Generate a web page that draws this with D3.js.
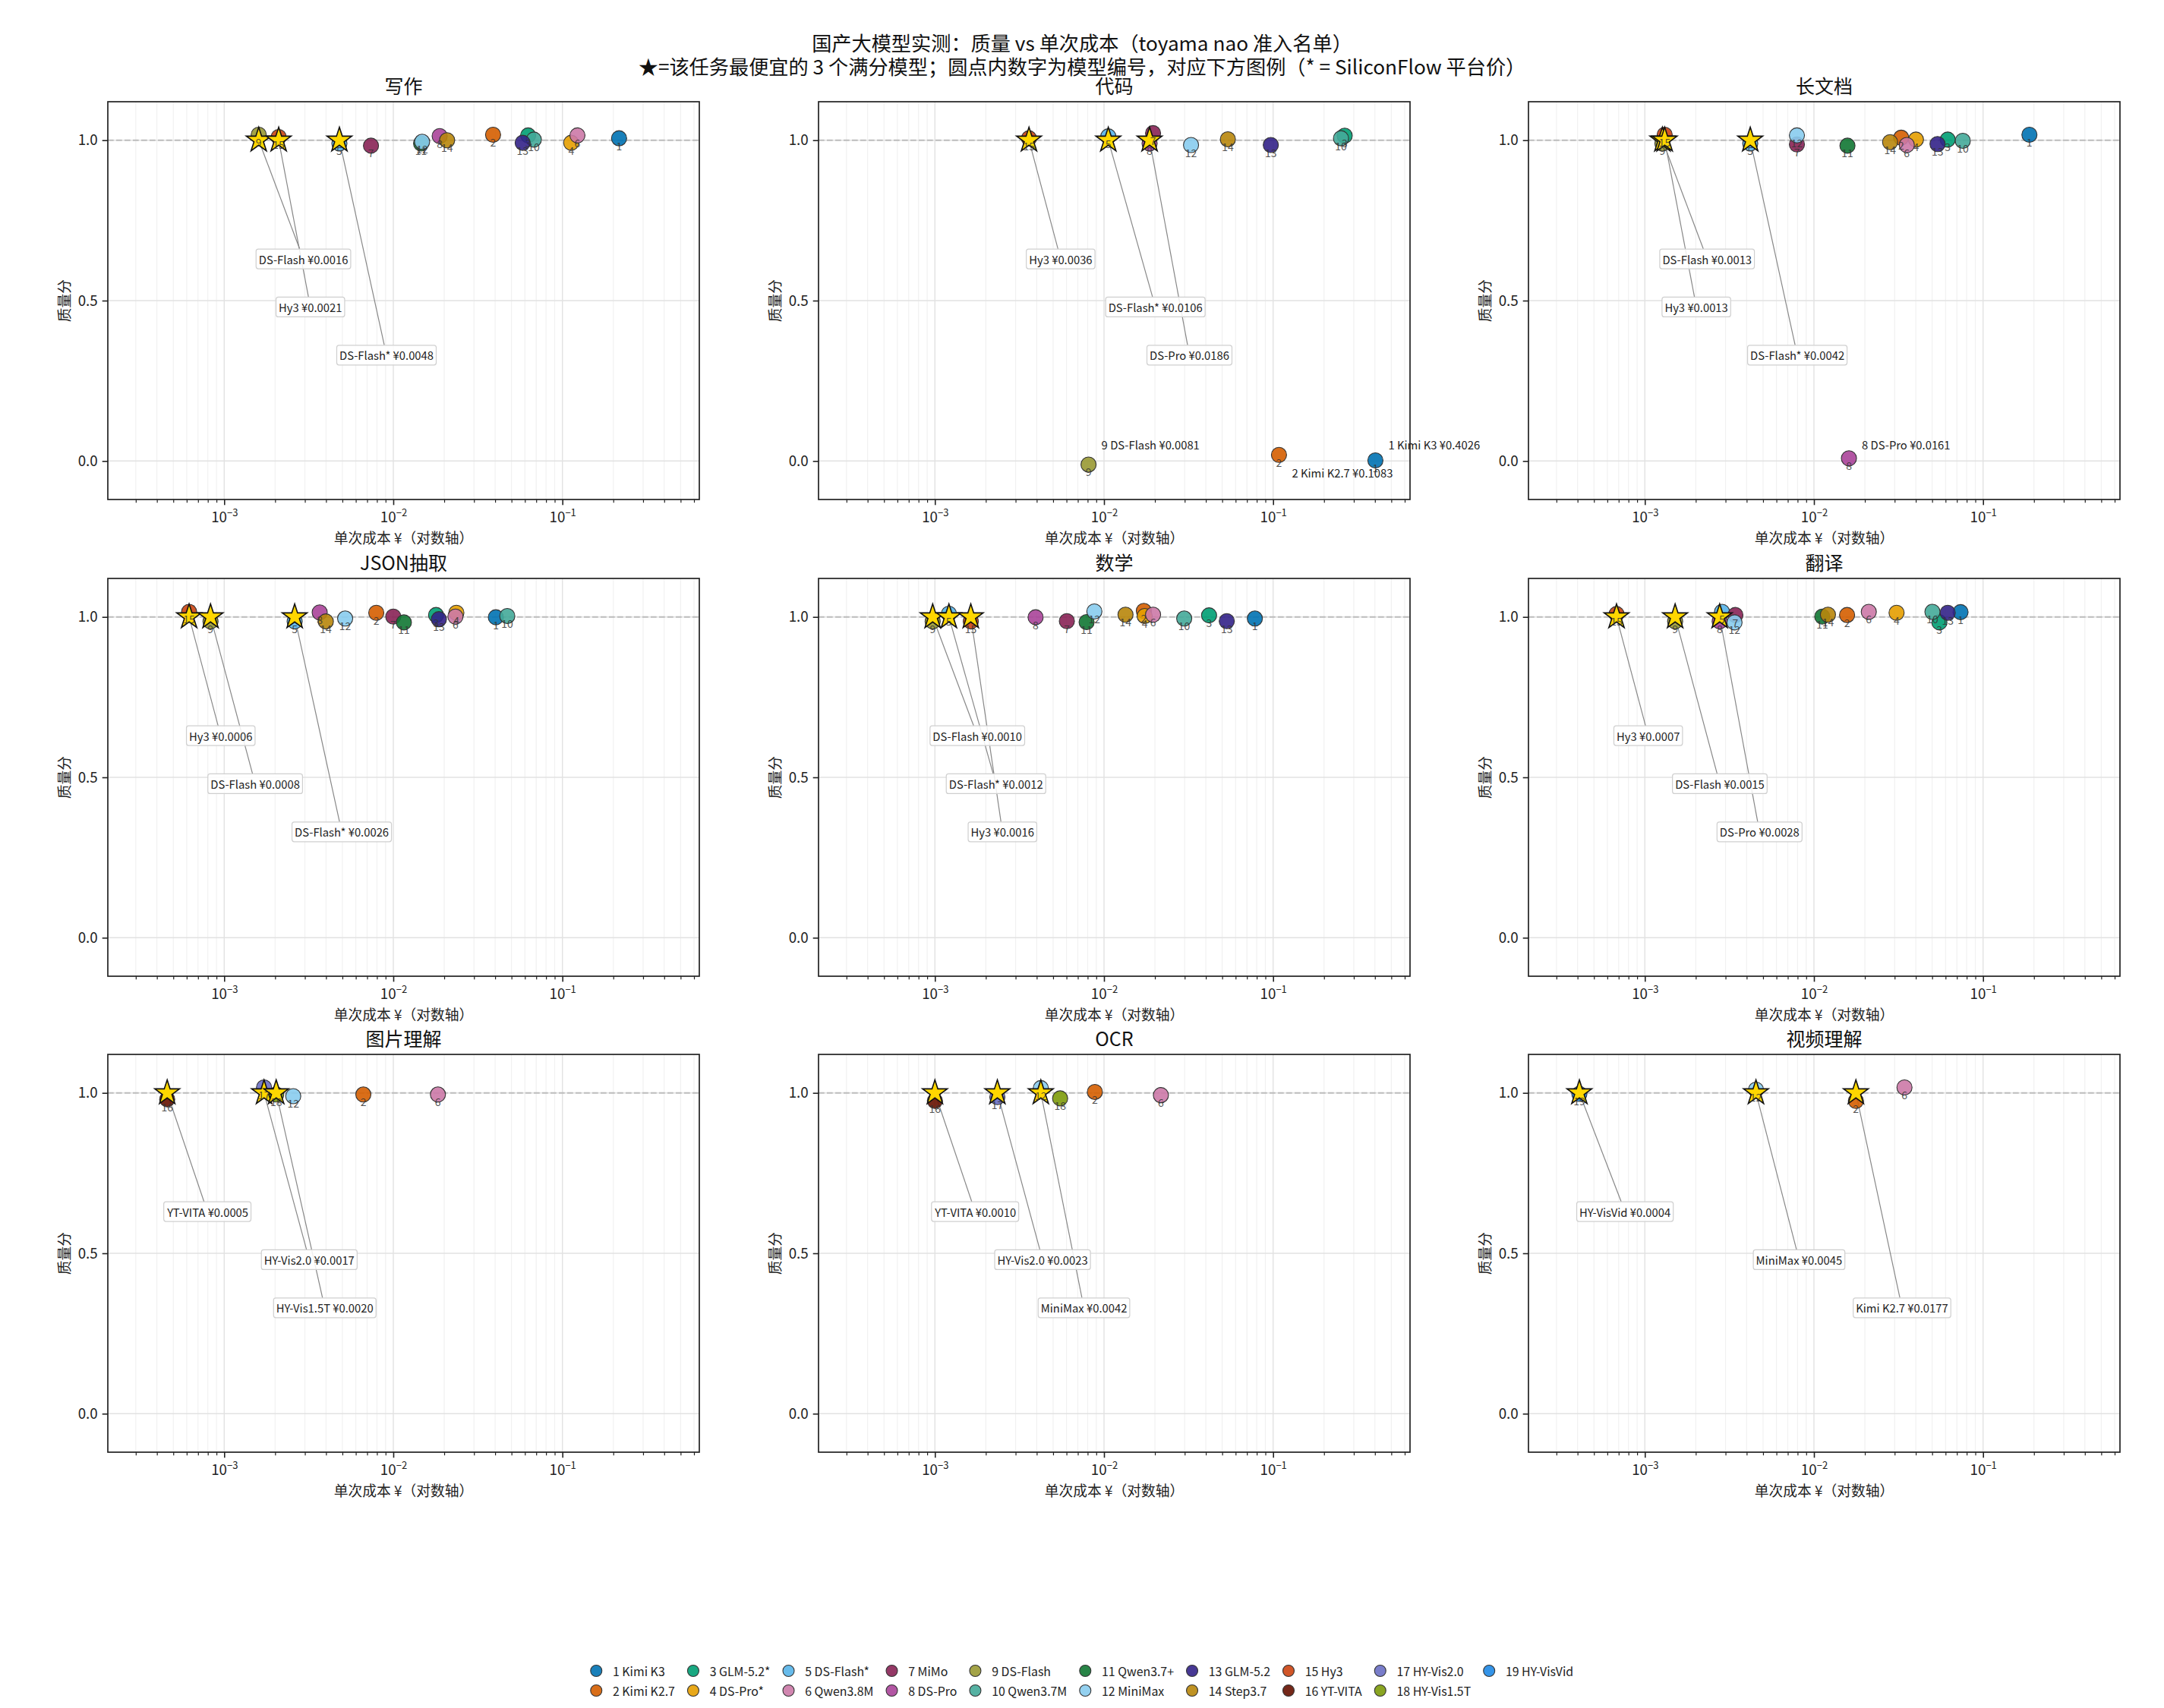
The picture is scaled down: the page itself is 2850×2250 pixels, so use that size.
<!DOCTYPE html>
<html><head><meta charset="utf-8">
<script src="https://cdn.jsdelivr.net/npm/d3@7"></script>
<style>
body{margin:0;background:#fff;}
svg text{font-family:"Noto Sans CJK SC","Noto Sans",sans-serif;}
</style>
</head><body>
<svg id="chart" width="2850" height="2250"></svg>
<script>
// ---------------- DATA ----------------
const modelNames = ["Kimi K3","Kimi K2.7","GLM-5.2*","DS-Pro*","DS-Flash*","Qwen3.8M","MiMo","DS-Pro","DS-Flash","Qwen3.7M","Qwen3.7+","MiniMax","GLM-5.2","Step3.7","Hy3","YT-VITA","HY-Vis2.0","HY-Vis1.5T","HY-VisVid"];
const modelColors = ["#0072B2","#D55E00","#009E73","#E69F00","#56B4E9","#CC79A7","#882255","#AA4499","#999933","#44AA99","#117733","#88CCEE","#332288","#B8860B","#CC4411","#661100","#6A6FC4","#7D9B0A","#1E88E5"];
const taskNames = ["写作","代码","长文档","JSON抽取","数学","翻译","图片理解","OCR","视频理解"];

// [model id, cost ¥ per call, plotted quality score]
const writingPoints = [[9,0.0016,1.017],[15,0.0021,1.01],[5,0.0048,0.99],[7,0.00738,0.983],[11,0.0146,0.99],[12,0.0148,0.995],[8,0.0188,1.013],[14,0.0208,1.0],[2,0.0389,1.017],[3,0.0627,1.015],[13,0.0582,0.992],[10,0.0678,1.002],[4,0.1127,0.992],[6,0.1227,1.015],[1,0.2163,1.006]];
const codePoints = [[15,0.0036,1.006],[5,0.0106,1.012],[8,0.0186,0.99],[7,0.0195,1.022],[12,0.0327,0.985],[14,0.054,1.003],[13,0.0969,0.985],[10,0.252,1.006],[3,0.265,1.014],[9,0.0081,-0.011],[2,0.1083,0.019],[1,0.4026,0.002]];
const longDocPoints = [[9,0.00127,0.99],[15,0.00131,1.017],[5,0.0042,0.99],[12,0.00793,1.015],[7,0.00793,0.987],[11,0.01578,0.983],[14,0.0282,0.994],[2,0.0328,1.008],[6,0.0354,0.985],[4,0.0401,1.002],[13,0.0538,0.988],[3,0.0618,1.002],[10,0.0759,0.998],[1,0.188,1.017],[8,0.0161,0.0085]];
const jsonPoints = [[15,0.00062,1.016],[9,0.00083,0.986],[5,0.00261,0.986],[8,0.00367,1.014],[14,0.00399,0.986],[12,0.00519,0.995],[2,0.00793,1.013],[7,0.01,1.001],[11,0.01155,0.983],[3,0.0179,1.006],[13,0.0186,0.993],[4,0.0236,1.013],[6,0.0233,1.001],[1,0.0404,0.999],[10,0.0472,1.003]];
const mathPoints = [[9,0.00097,0.986],[5,0.00121,1.01],[15,0.00163,0.986],[8,0.00394,0.999],[7,0.00603,0.987],[11,0.00789,0.984],[12,0.00877,1.017],[14,0.0134,1.007],[2,0.0172,1.019],[4,0.0174,1.003],[6,0.0195,1.007],[10,0.0298,0.995],[3,0.0418,1.005],[13,0.0532,0.987],[1,0.078,0.995]];
const translatePoints = [[15,0.00068,1.009],[9,0.00151,0.986],[8,0.00277,0.986],[5,0.00286,1.016],[7,0.00343,1.006],[12,0.00339,0.983],[11,0.0112,1.001],[14,0.0121,1.007],[2,0.0157,1.006],[6,0.0211,1.016],[4,0.0308,1.013],[10,0.0502,1.016],[3,0.0552,0.983],[13,0.0618,1.013],[1,0.0736,1.015]];
const imagePoints = [[16,0.00046,0.98],[17,0.00172,1.017],[18,0.00203,0.995],[12,0.00256,0.99],[2,0.00665,0.995],[6,0.01836,0.995]];
const ocrPoints = [[16,0.001,0.975],[17,0.00234,0.987],[12,0.00423,1.015],[18,0.0055,0.983],[2,0.00883,1.003],[6,0.0217,0.993]];
const videoPoints = [[19,0.00041,0.997],[12,0.00454,1.01],[2,0.0177,0.975],[6,0.0343,1.017]];

// cheapest three full-score models per task (in cost order)
const writingTop3 = [9,15,5];
const codeTop3 = [15,5,8];
const longDocTop3 = [9,15,5];
const jsonTop3 = [15,9,5];
const mathTop3 = [9,5,15];
const translateTop3 = [15,9,8];
const imageTop3 = [16,17,18];
const ocrTop3 = [16,17,12];
const videoTop3 = [19,12,2];

const xTickValues = [1e-3,1e-2,1e-1];
const yTickValues = [0,0.5,1.0];
const costDomain = [2.05e-4,0.645];
const scoreDomain = [-0.12,1.12];

const titleLine1 = "国产大模型实测：质量 vs 单次成本（toyama nao 准入名单）";
const titleLine2 = "★=该任务最便宜的 3 个满分模型；圆点内数字为模型编号，对应下方图例（* = SiliconFlow 平台价）";
const xLabel = "单次成本 ¥（对数轴）";
const yLabel = "质量分";

// ---------------- LAYOUT ----------------
const FONT = '"Noto Sans CJK SC","Noto Sans",sans-serif';
const colX = [142,1078,2013], rowY = [134,762,1389];
const W = 779, H = 524;
const boxRows = [0.63,0.48,0.33];

const pointSets = [writingPoints,codePoints,longDocPoints,jsonPoints,mathPoints,translatePoints,imagePoints,ocrPoints,videoPoints];
const top3Sets = [writingTop3,codeTop3,longDocTop3,jsonTop3,mathTop3,translateTop3,imageTop3,ocrTop3,videoTop3];
const panels = taskNames.map((name,i)=>({
  name,
  points: pointSets[i].map(p=>({id:p[0],cost:p[1],score:p[2]})),
  top3: top3Sets[i]
}));

const svg = d3.select("#chart");
svg.append("rect").attr("width",2850).attr("height",2250).attr("fill","#fff");

// suptitle
svg.append("text").attr("x",1425).attr("y",67).attr("text-anchor","middle")
  .attr("font-size",26.2).attr("fill","#111").text(titleLine1);
svg.append("text").attr("x",1425).attr("y",98).attr("text-anchor","middle")
  .attr("font-size",26.2).attr("fill","#111").text(titleLine2);

const x = d3.scaleLog().domain(costDomain).range([0,W]);
const y = d3.scaleLinear().domain(scoreDomain).range([H,0]);

const minorTicks = [];
for (let e=-4;e<=0;e++) for (let m=2;m<=9;m++){const v=m*Math.pow(10,e); if(v>=costDomain[0]&&v<=costDomain[1]) minorTicks.push(v);}

const starSym = d3.symbol().type(d3.symbolStar).size(330)();

panels.forEach((p,i)=>{
  const g = svg.append("g").attr("transform",`translate(${colX[i%3]},${rowY[Math.floor(i/3)]})`);
  // grids
  g.append("g").selectAll("line").data(minorTicks).join("line")
    .attr("x1",d=>x(d)).attr("x2",d=>x(d)).attr("y1",0).attr("y2",H)
    .attr("stroke","#f1f1f1").attr("stroke-width",1.2);
  g.append("g").selectAll("line").data(xTickValues).join("line")
    .attr("x1",d=>x(d)).attr("x2",d=>x(d)).attr("y1",0).attr("y2",H)
    .attr("stroke","#e2e2e2").attr("stroke-width",1.4);
  g.append("g").selectAll("line").data(yTickValues).join("line")
    .attr("x1",0).attr("x2",W).attr("y1",d=>y(d)).attr("y2",d=>y(d))
    .attr("stroke","#e2e2e2").attr("stroke-width",1.4);
  // reference line at full score
  g.append("line").attr("x1",0).attr("x2",W).attr("y1",y(1)).attr("y2",y(1))
    .attr("stroke","#bdbdbd").attr("stroke-width",2).attr("stroke-dasharray","7.7,3.3");

  const starPts = p.top3.map(id=>p.points.find(d=>d.id===id));
  const annG = g.append("g");
  const lineG = annG.append("g");
  const boxG = annG.append("g");

  // circles
  const sorted = p.points.slice().sort((a,b)=>a.id-b.id);
  g.append("g").selectAll("circle").data(sorted).join("circle")
    .attr("cx",d=>x(d.cost)).attr("cy",d=>y(d.score)).attr("r",10)
    .attr("fill",d=>modelColors[d.id-1]).attr("fill-opacity",0.9)
    .attr("stroke","#333").attr("stroke-width",1.1);

  // stars
  g.append("g").selectAll("path").data(starPts).join("path")
    .attr("d",starSym)
    .attr("transform",d=>`translate(${x(d.cost)},${y(1)})`)
    .attr("fill","#FFD700").attr("stroke","#111").attr("stroke-width",1.6);

  // number labels
  g.append("g").selectAll("text").data(sorted).join("text")
    .attr("x",d=>x(d.cost)).attr("y",d=>y(d.score)+9.5)
    .attr("text-anchor","middle").attr("dominant-baseline","central")
    .attr("font-size",14).attr("fill","#333").attr("fill-opacity",0.85)
    .text(d=>d.id);

  // star label boxes
  starPts.forEach((d,k)=>{
    const px = x(d.cost), py = y(1);
    const t = boxG.append("text").attr("x",px).attr("y",y(boxRows[k]))
      .attr("dominant-baseline","central").attr("font-size",14.8).attr("fill","#222")
      .text(`${modelNames[d.id-1]} ¥${d.cost.toFixed(4)}`);
    const bb = t.node().getBBox();
    const pad = 3.5;
    const bx = bb.x-pad, by = bb.y-pad+1, bw = bb.width+2*pad, bh = bb.height+2*pad-2;
    boxG.insert("rect","text").attr("x",bx).attr("y",by).attr("width",bw).attr("height",bh)
      .attr("rx",3).attr("fill","#fff").attr("fill-opacity",0.85)
      .attr("stroke","#cfcfcf").attr("stroke-width",1.2);
    const cx = bx+bw/2, cy = by+bh/2;
    const dx = px-cx, dy = py-cy;
    const s = Math.min(dx!==0?(bw/2)/Math.abs(dx):Infinity,(bh/2)/Math.abs(dy));
    const ex = cx+dx*s, ey = cy+dy*s;
    lineG.append("line").attr("x1",px).attr("y1",py).attr("x2",ex).attr("y2",ey)
      .attr("stroke","#888").attr("stroke-width",1.2);
  });

  // zero-score annotations
  const zeros = p.points.filter(d=>d.score<0.5).sort((a,b)=>a.cost-b.cost);
  zeros.forEach((d,k)=>{
    const above = k%2===0;
    g.append("text").attr("x",x(d.cost)+17)
      .attr("y",y(Math.round(d.score))+(above?-22:15))
      .attr("dominant-baseline","central").attr("font-size",14.8).attr("fill","#222")
      .text(`${d.id} ${modelNames[d.id-1]} ¥${d.cost.toFixed(4)}`);
  });

  // axes
  const xAxis = g.append("g").attr("transform",`translate(0,${H})`)
    .call(d3.axisBottom(x).tickValues(xTickValues).tickSize(7.3).tickPadding(7).tickFormat(()=>""));
  xAxis.selectAll(".tick line").attr("stroke","#222").attr("stroke-width",1.6);
  xAxis.selectAll(".tick text").each(function(d){
    const t = d3.select(this);
    t.attr("y",29.5).attr("dy",0).attr("font-size",18.75).attr("fill","#222").attr("font-family",FONT);
    t.append("tspan").text("10");
    t.append("tspan").attr("dy",-8).attr("font-size",13).text("−"+Math.round(-Math.log10(d)));
  });
  const xMinor = g.append("g").attr("transform",`translate(0,${H})`)
    .call(d3.axisBottom(x).tickValues(minorTicks).tickSize(4.2).tickFormat(()=>""));
  xMinor.selectAll(".tick line").attr("stroke","#222").attr("stroke-width",1.2);
  xMinor.select(".domain").remove();
  xAxis.select(".domain").remove();

  const yAxis = g.append("g")
    .call(d3.axisLeft(y).tickValues(yTickValues).tickSize(7.3).tickPadding(6).tickFormat(d3.format(".1f")));
  yAxis.select(".domain").remove();
  yAxis.selectAll(".tick line").attr("stroke","#222").attr("stroke-width",1.6);
  yAxis.selectAll(".tick text").attr("font-size",18.75).attr("fill","#222").attr("font-family",FONT);

  // frame
  g.append("rect").attr("width",W).attr("height",H).attr("fill","none")
    .attr("stroke","#222").attr("stroke-width",1.7);

  // titles and labels
  g.append("text").attr("x",W/2).attr("y",-11).attr("text-anchor","middle")
    .attr("font-size",25).attr("fill","#111").text(p.name);
  g.append("text").attr("x",W/2).attr("y",H+58).attr("text-anchor","middle")
    .attr("font-size",18.75).attr("fill","#222").text(xLabel);
  g.append("text").attr("transform",`translate(-59,${H/2}) rotate(-90)`)
    .attr("text-anchor","middle").attr("dominant-baseline","central")
    .attr("font-size",18.75).attr("fill","#222").text(yLabel);
});

// ---------------- LEGEND ----------------
const legendRows = [2201,2227];
const legG = svg.append("g");
const items = modelNames.map((n,i)=>({id:i+1,label:`${i+1} ${n}`,color:modelColors[i]}));
const nCols = Math.ceil(items.length/2);
const textOff = 21.7, gap = 24, mr = 7.5, legFont = 15.9;
const widths = items.map(it=>{
  const t = legG.append("text").attr("font-size",legFont).text(it.label);
  const w = t.node().getComputedTextLength(); t.remove(); return w;
});
const colW = [];
for (let c=0;c<nCols;c++) colW.push(Math.max(widths[2*c]||0, widths[2*c+1]||0));
let total = 0; const colStart=[];
for (let c=0;c<nCols;c++){colStart.push(total); total += textOff+colW[c]+(c<nCols-1?gap:0);}
const legWidth = mr + total;
const startX = 1425 - legWidth/2 + mr;
items.forEach((it,i)=>{
  const c = Math.floor(i/2), r = i%2;
  const mx = startX + colStart[c];
  legG.append("circle").attr("cx",mx).attr("cy",legendRows[r]).attr("r",mr)
    .attr("fill",it.color).attr("fill-opacity",0.9).attr("stroke","#333").attr("stroke-width",1.1);
  legG.append("text").attr("x",mx+textOff).attr("y",legendRows[r])
    .attr("dominant-baseline","central").attr("font-size",legFont).attr("fill","#222").text(it.label);
});
</script>
</body></html>
